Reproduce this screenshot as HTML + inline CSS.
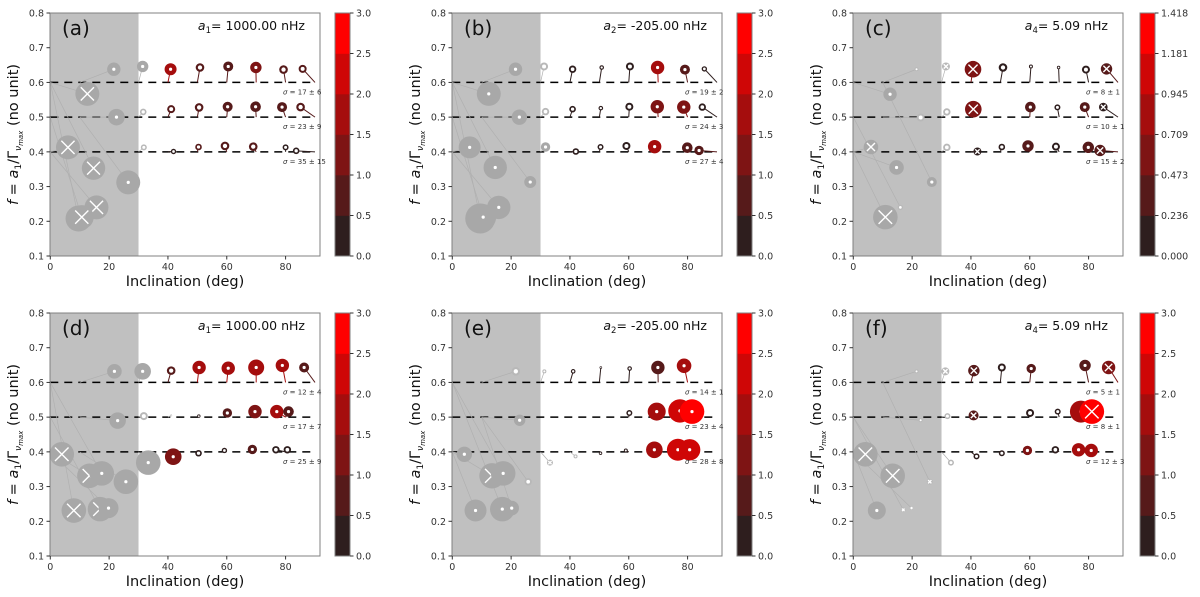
<!DOCTYPE html>
<html><head><meta charset="utf-8"><style>
html,body{margin:0;padding:0;background:#fff}
svg{display:block;font-family:"DejaVu Sans","Liberation Sans",sans-serif}
</style></head><body>
<svg id="fig" width="1200" height="597" viewBox="0 0 1200 597" xmlns="http://www.w3.org/2000/svg"></svg>
<script>
// ---- data ----
const panelLabels = ["(a)","(b)","(c)","(d)","(e)","(f)"];
const coefNames = ["a","a","a","a","a","a"];
const coefSubs = ["1","2","4","1","2","4"];
const coefValues = ["1000.00","-205.00","5.09","1000.00","-205.00","5.09"];
const colorMax = [3,3,1.418,3,3,3];
const cbarTicks3 = ["0.0","0.5","1.0","1.5","2.0","2.5","3.0"];
const cbarTicksC = ["0.000","0.236","0.473","0.709","0.945","1.181","1.418"];
const levels = [0.6,0.5,0.4];
const sigmaTexts = [
 ["17 ± 6","23 ± 9","35 ± 15"],["19 ± 2","24 ± 3","27 ± 4"],["8 ± 1","10 ± 1","15 ± 2"],
 ["12 ± 4","17 ± 7","25 ± 9"],["14 ± 1","23 ± 4","28 ± 8"],["5 ± 1","8 ± 1","12 ± 3"]];
const xTicks = [0,20,40,60,80];
const yTicks = [0.1,0.2,0.3,0.4,0.5,0.6,0.7,0.8];
// markers: inclination, f, size, colour value (null = excluded/grey), mark type
const incl = [
 [21.6,31.4,40.9,50.9,60.5,69.9,79.3,85.8,12.6,22.5,31.6,41.1,50.6,60.3,69.8,78.8,85.1,6,14.7,26.5,15.7,9.6,10.7,31.8,41.9,50.4,59.4,69,80,83.6],
 [21.5,31.2,40.9,50.8,60.4,69.8,79.1,85.7,12.4,22.8,31.7,40.9,50.5,60.2,69.7,78.7,85,5.9,14.6,26.5,15.8,9.5,10.5,31.7,42,50.4,59.2,68.8,79.9,83.9],
 [21.5,31.5,40.7,50.9,60.4,69.8,79.1,86.1,12.5,22.9,31.8,40.8,60.2,69.4,78.7,85,6,14.7,26.7,16,10.9,31.8,42.2,50.5,59.4,68.9,79.9,83.9],
 [21.8,31.4,41.1,50.6,60.5,70,78.9,86.3,22.9,31.8,41.1,50.5,60.2,69.6,77,81,41.8,50.4,59.2,68.7,76.7,80.6,3.9,13.3,17.5,33.3,25.7,8,16.9,19.8],
 [21.6,31.3,41.1,50.5,60.3,69.9,78.8,22.9,60.2,69.5,77.4,81.5,33.2,41.9,50.4,59,68.7,76.7,80.7,4.1,13.5,17.3,25.8,7.9,17,20.2],
 [21.5,31.3,41,50.5,60.5,78.8,86.8,22.9,32,40.9,60.1,69.5,77.4,81.1,33.2,41.9,50.5,59.2,68.7,76.6,80.9,4.1,13.4,8,26,17,19.8]];
const fval = [
 [.638,.646,.638,.643,.646,.643,.637,.639,.567,.5,.515,.523,.528,.53,.53,.529,.529,.413,.353,.312,.24,.208,.212,.413,.401,.414,.417,.415,.413,.403],
 [.638,.646,.638,.643,.646,.643,.637,.639,.567,.5,.516,.523,.526,.53,.53,.529,.529,.413,.355,.313,.24,.208,.212,.414,.401,.414,.417,.415,.412,.404],
 [.638,.646,.638,.643,.646,.643,.637,.639,.566,.499,.515,.523,.529,.528,.529,.529,.414,.355,.313,.24,.212,.413,.401,.414,.417,.415,.413,.404],
 [.632,.632,.634,.643,.641,.643,.649,.643,.49,.503,.505,.503,.512,.516,.516,.516,.386,.396,.404,.407,.406,.406,.393,.331,.338,.369,.314,.231,.235,.238],
 [.632,.632,.632,.643,.64,.643,.648,.491,.512,.516,.518,.516,.369,.387,.396,.404,.406,.406,.406,.393,.331,.338,.314,.231,.235,.238],
 [.632,.632,.634,.643,.64,.649,.643,.491,.503,.505,.512,.516,.516,.516,.369,.387,.396,.404,.406,.406,.404,.393,.331,.231,.314,.233,.238]];
const msize = [
 [6.7,5.7,6,4.3,5,5.7,4.3,4,12,8.3,3.3,4,4.3,5,5.3,5,4.3,12,11.7,12,12,13,12,3,2.7,3.3,4.3,4.3,3,3.3],
 [6.7,4,3.7,2.3,4,6.7,5,2.7,12,7.7,3.7,3.3,2.3,4,6.7,6.7,3.7,11,11.7,6,11.7,15,13,4.7,3.3,3,4,6.7,5.3,4.7],
 [2,4,8.3,4.3,2,1.7,4,5.7,6.7,4,3.7,8.3,5.3,3,5,4.3,7.3,7.3,5,2.7,12.3,3.7,4,3.3,5.7,4,5.7,5.7],
 [7.3,8.3,4.3,6.7,6.7,8,6.7,5,8.3,4,1,1.7,4.7,6.7,6.7,5.3,8.3,3.3,2.7,4.7,3.7,3.7,12.3,12.3,12.3,12.3,12.3,12.3,12.3,10],
 [4.3,2,2.3,1.3,2.3,6.7,7.3,5.7,3,9,11.7,12.3,3,2,1.7,2,8.3,11,10.7,7.7,12.7,12.3,3.7,11,12.3,7.3],
 [2,4,5.7,4,4.7,5.7,6.7,2,3,5,4,3,11,12.3,3,3,3,4.7,3.7,6.7,6.7,12.3,12.3,9,3,2.3,1.5]];
const cval = [
 [null,null,1.8,0.9,0.8,1.4,0.8,0.6,null,null,null,0.9,0.9,0.9,0.9,0.8,0.6,null,null,null,null,null,null,null,0.2,0.5,0.8,0.8,0.2,0.2],
 [null,null,0.3,0.2,0.4,1.5,0.8,0.2,null,null,null,0.2,0.2,0.3,1.4,1.2,0.3,null,null,null,null,null,null,null,0.2,0.2,0.4,1.5,0.7,0.6],
 [null,null,0.55,0.05,0.05,0.05,0.1,0.35,null,null,null,0.55,0.4,0.05,0.4,0.1,null,null,null,null,null,null,0.1,0.05,0.35,0.1,0.4,0.3],
 [null,null,0.5,1.6,1.5,1.5,1.5,0.6,null,null,null,0.1,0.5,1.4,1.5,0.8,1.4,0.3,0.1,0.6,0.3,0.3,null,null,null,null,null,null,null,null],
 [null,null,0.1,0.1,0.1,0.5,1.5,null,0.1,1.5,2.2,2.8,null,null,0.1,0.1,1.5,2.0,2.4,null,null,null,null,null,null,null],
 [null,null,0.6,0.1,0.7,0.5,1.3,null,null,0.6,0.1,0.1,1.7,2.8,null,0.1,0.05,1.0,0.2,1.5,1.5,null,null,null,null,null,null]];
const mtype = [
 "oooooooox"+"oooooooo"+"xxoxox"+"ooooooo",
 "oooooooooooooooooooooooooooooo",
 "oxxoooox"+"ooox"+"ooox"+"xooox"+"oxoooox",
 "oooooooo"+"oooooooo"+"oooooo"+"xxooox"+"xo",
 "ooooooo"+"ooooox"+"ooooooox"+"ooooooo",
 "oxxoooxooxooox"+"ooooooox"+"xoxxxo"];
const cmapColors = ["#2e1e1e","#561a1a","#7e1414","#a50d0d","#cf0606","#ff0000"];

// ---- layout ----
const NS="http://www.w3.org/2000/svg";
const svg=document.getElementById('fig');
const AX_L=[50,452,853], AX_T=[13,313], AX_W=270, AX_H=243, CB_L=[335,737,1140], CB_W=15;
const XMIN=-0.1, XMAX=91.7, YMIN=0.1, YMAX=0.8;
function el(tag,attrs,parent){const e=document.createElementNS(NS,tag);for(const k in attrs)e.setAttribute(k,attrs[k]);(parent||svg).appendChild(e);return e;}
function colorFor(v,vmax){if(v===null)return null;let i=Math.floor(v/vmax*6);if(i>5)i=5;if(i<0)i=0;return cmapColors[i];}

for(let p=0;p<6;p++){
  const col=p%3,row=Math.floor(p/3);
  const L=AX_L[col],T=AX_T[row];
  const sx=v=>L+(v-XMIN)/(XMAX-XMIN)*AX_W;
  const sy=v=>T+(YMAX-v)/(YMAX-YMIN)*AX_H;
  const g=el('g',{});
  
  
  const shade=el('rect',{x:sx(0),y:T,width:sx(30)-sx(0),height:AX_H,fill:'#c0c0c0'},g);
  
  
  levels.forEach((lv,i)=>{
    const ln=el('line',{x1:sx(0),x2:sx(90),y1:sy(lv),y2:sy(lv),stroke:'#000','stroke-width':1.5,'stroke-dasharray':'8,6'},g);
    
    
  });
  const N=incl[p].length;
  for(let i=0;i<N;i++){
    const x=incl[p][i],y=fval[p][i];
    const c=colorFor(cval[p][i],colorMax[p]);
    let lv=levels.reduce((a,b)=>Math.abs(b-y)<Math.abs(a-y)?b:a);
    let tx=Math.round(x/10)*10; if(x>83)tx=90;
    if(x<30){tx=Math.max(0,Math.floor(x/10)*10-10); if(y<0.37) lv=levels[i%3];}
    el('line',{x1:sx(x),y1:sy(y),x2:sx(tx),y2:sy(lv),stroke:c||'#b0b0b0','stroke-width':c?1:0.7},g);
  }
  for(let i=0;i<N;i++){
    const x=incl[p][i],y=fval[p][i],r=msize[p][i];
    const c=colorFor(cval[p][i],colorMax[p]);
    const mg=el('g',{},g);
    
    
    el('circle',{cx:sx(x),cy:sy(y),r:r,fill:c||(r<4.5?'#b8b8b8':'#a8a8a8')},mg);
    if(mtype[p][i]==='x'){
      const d=r*0.55;
      el('path',{d:`M${sx(x)-d},${sy(y)-d}L${sx(x)+d},${sy(y)+d}M${sx(x)-d},${sy(y)+d}L${sx(x)+d},${sy(y)-d}`,stroke:'#fff','stroke-width':1.4,fill:'none'},mg);
    } else {
      const ri=r<=4.5?r*0.5:1.6;
      el('circle',{cx:sx(x),cy:sy(y),r:ri,fill:'#fff'},mg);
    }
  }
  const fr=el('rect',{x:L,y:T,width:AX_W,height:AX_H,fill:'none',stroke:'#808080','stroke-width':1},g);
  
  
  xTicks.forEach(t=>{
    el('line',{x1:sx(t),x2:sx(t),y1:T+AX_H,y2:T+AX_H+3.5,stroke:'#333'},g);
    const tx=el('text',{x:sx(t),y:T+AX_H+14,'font-size':9.5,'text-anchor':'middle',fill:'#333'},g);tx.textContent=t;
    
    
  });
  yTicks.forEach(t=>{
    el('line',{x1:L-3.5,x2:L,y1:sy(t),y2:sy(t),stroke:'#333'},g);
    const ty=el('text',{x:L-6,y:sy(t)+3.5,'font-size':9.5,'text-anchor':'end',fill:'#333'},g);ty.textContent=t.toFixed(1);
    
    
  });
  const xl=el('text',{x:L+AX_W/2,y:T+AX_H+30,'font-size':14.5,'text-anchor':'middle',fill:'#111'},g);
  xl.textContent='Inclination (deg)';
  
  
  const yl=el('text',{x:0,y:0,'font-size':14.5,'text-anchor':'middle',fill:'#111',transform:`translate(${L-32},${T+AX_H/2}) rotate(-90)`},g);
  yl.innerHTML='<tspan font-style="italic">f</tspan> = <tspan font-style="italic">a</tspan><tspan font-size="9" dy="3">1</tspan><tspan dy="-3">/Γ</tspan><tspan font-size="9" font-style="italic" dy="3">ν</tspan><tspan font-size="7" font-style="italic" dy="2">max</tspan><tspan dy="-5">  (no unit)</tspan>';
  
  
  const pl=el('text',{x:L+12,y:T+22,'font-size':20,fill:'#111'},g);pl.textContent=panelLabels[p];
  
  
  const tt=el('text',{x:L+AX_W-15,y:T+17,'font-size':12.5,'text-anchor':'end',fill:'#111'},g);
  tt.innerHTML=`<tspan font-style="italic">${coefNames[p]}</tspan><tspan font-size="8.5" dy="3">${coefSubs[p]}</tspan><tspan dy="-3">= ${coefValues[p]} nHz</tspan>`;
  
  
  levels.forEach((lv,i)=>{
    const st=el('text',{x:L+233,y:sy(lv)+12,'font-size':7,fill:'#333'},g);
    st.innerHTML='<tspan font-style="italic">σ</tspan> = '+sigmaTexts[p][i];
    
    
  });
  const cb=el('g',{},g);
  
  
  const CL=CB_L[col], bh=AX_H/6;
  for(let k=0;k<6;k++) el('rect',{x:CL,y:T+AX_H-(k+1)*bh,width:CB_W,height:bh+0.3,fill:cmapColors[k]},cb);
  el('rect',{x:CL,y:T,width:CB_W,height:AX_H,fill:'none',stroke:'#808080'},cb);
  const labs=p===2?cbarTicksC:cbarTicks3;
  labs.forEach((t,k)=>{
    const yy=T+AX_H-k*bh;
    el('line',{x1:CL+CB_W,x2:CL+CB_W+3.5,y1:yy,y2:yy,stroke:'#333'},cb);
    const ct=el('text',{x:CL+CB_W+6,y:yy+3.5,'font-size':9.5,fill:'#333'},cb);ct.textContent=t;
    
    
  });
}
</script>
</body></html>
